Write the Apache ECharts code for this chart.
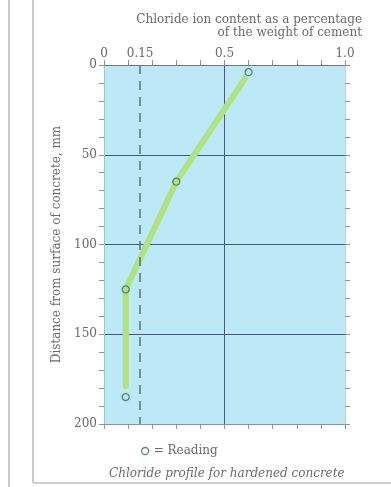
<!DOCTYPE html>
<html>
<head>
<meta charset="utf-8">
<script src="https://cdn.jsdelivr.net/npm/echarts@6/dist/echarts.min.js"></script>
<style>
  html, body { margin: 0; padding: 0; background: #fff; }
  #chart { width: 391px; height: 487px; }
</style>
</head>
<body>
<div id="chart"></div>
<script>
// readings (chloride % of cement weight vs depth in mm)
var readingPct = [0.6, 0.3, 0.09, 0.09];
var readingDepth = [4, 65, 125, 185];

// fitted profile line
var profilePct = [0.585, 0.3, 0.09, 0.09];
var profileDepth = [7.5, 65, 125, 179];

var thresholdPct = 0.15;
var topLabels = [0, 0.15, 0.5, 1.0];

var serif = '"DejaVu Serif", "Liberation Serif", serif';
var textGrey = '#6a6a6a';
var tickGrey = '#8a949c';

var readings = readingPct.map(function (v, i) { return [v, readingDepth[i]]; });
var profile = profilePct.map(function (v, i) { return [v, profileDepth[i]]; });

function tickAxis(extra, lineColor) {
    var base = {
        axisLine: { show: true, onZero: false, lineStyle: { color: lineColor || tickGrey, width: 1 } },
        axisTick: { show: true, length: 5, lineStyle: { color: tickGrey } },
        minorTick: { show: true, splitNumber: 5, length: 5, lineStyle: { color: tickGrey } },
        splitLine: { show: false },
        axisLabel: { show: false }
    };
    return Object.assign(base, extra);
}

var readingStyle = { color: 'rgba(0,0,0,0)', borderColor: '#3b6a55', borderWidth: 1.3 };

var chart = echarts.init(document.getElementById('chart'));
chart.setOption({
    animation: false,
    title: {
        text: 'Chloride profile for hardened concrete',
        left: 104,
        top: 463,
        textStyle: { fontFamily: serif, fontSize: 12, fontWeight: 'normal', fontStyle: 'italic', color: textGrey }
    },
    legend: {
        left: 136,
        top: 440,
        itemWidth: 7,
        itemHeight: 7,
        itemGap: 4,
        icon: 'circle',
        itemStyle: readingStyle,
        data: ['Reading'],
        formatter: function () { return '= Reading'; },
        textStyle: { fontFamily: serif, fontSize: 12, color: textGrey }
    },
    grid: {
        left: 104, right: 46, top: 65, bottom: 63,
        show: true, backgroundColor: '#bde8f6', borderWidth: 0
    },
    xAxis: [tickAxis({
        type: 'value', position: 'top', min: 0, max: 1, interval: 0.5,
        splitLine: { show: true, lineStyle: { color: '#3f5e7a', width: 1 } },
        axisLabel: {
            customValues: topLabels,
            margin: 5,
            fontFamily: serif, fontSize: 12, color: textGrey,
            formatter: function (v) { return v === 1 ? '1.0' : String(v); }
        }
    }, '#6b7680'), tickAxis({
        type: 'value', position: 'bottom', min: 0, max: 1, interval: 0.5
    })],
    yAxis: [tickAxis({
        type: 'value', inverse: true, min: 0, max: 200, interval: 50,
        name: 'Distance from surface of concrete, mm',
        nameLocation: 'middle', nameGap: 32,
        nameTextStyle: { fontFamily: serif, fontSize: 12, color: textGrey },
        splitLine: { show: true, lineStyle: { color: '#3f5e7a', width: 1 } },
        axisLabel: { margin: 7, fontFamily: serif, fontSize: 12, color: textGrey }
    }, '#9fc7d6'), tickAxis({
        type: 'value', inverse: true, min: 0, max: 200, interval: 50, position: 'right'
    }, '#b0d8e6')],
    series: [{
        name: 'profile',
        type: 'line',
        data: profile,
        showSymbol: false,
        lineStyle: { color: '#afe283', width: 6, cap: 'round', join: 'round' },
        z: 3,
        markLine: {
            silent: true,
            symbol: 'none',
            label: { show: false },
            lineStyle: { color: '#4d7484', type: [9, 7], width: 1.5 },
            data: [{ xAxis: thresholdPct }]
        }
    }, {
        name: 'Reading',
        type: 'scatter',
        data: readings,
        symbol: 'circle',
        symbolSize: 7,
        itemStyle: readingStyle,
        z: 5
    }],
    graphic: [
        { type: 'line', shape: { x1: 9, y1: 0, x2: 9, y2: 487 }, style: { stroke: '#c9c9c9', lineWidth: 2 } },
        { type: 'line', shape: { x1: 33, y1: 0, x2: 33, y2: 483 }, style: { stroke: '#bdbdbd', lineWidth: 1.5 } },
        { type: 'line', shape: { x1: 33, y1: 483, x2: 391, y2: 483 }, style: { stroke: '#bdbdbd', lineWidth: 1.5 } },
        {
            type: 'text', right: 29, top: 14,
            style: { text: 'Chloride ion content as a percentage', fontFamily: serif, fontSize: 12, fill: textGrey }
        },
        {
            type: 'text', right: 29, top: 27,
            style: { text: 'of the weight of cement', fontFamily: serif, fontSize: 12, fill: textGrey }
        }
    ]
});
</script>
</body>
</html>
